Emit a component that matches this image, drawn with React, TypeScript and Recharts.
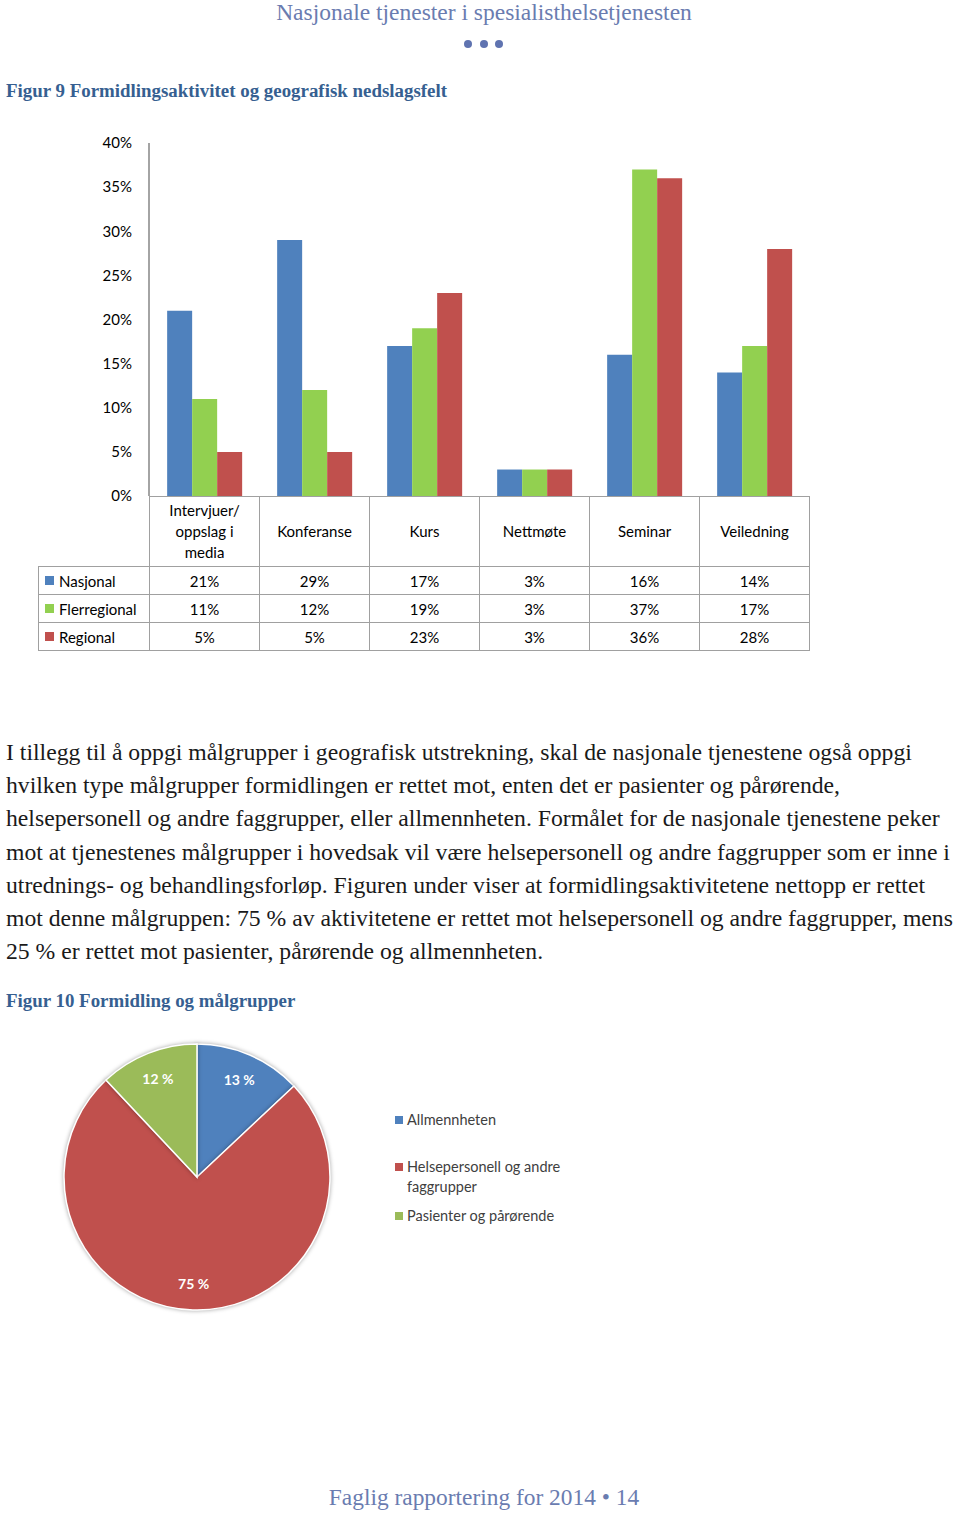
import React from 'react';
import { BarChart, Bar, XAxis, YAxis, PieChart, Pie, Cell, Legend } from 'recharts';

const categories = ['Intervjuer/\noppslag i\nmedia', 'Konferanse', 'Kurs', 'Nettmøte', 'Seminar', 'Veiledning'];
const seriesNames = ['Nasjonal', 'Flerregional', 'Regional'];
const nasjonal = [21, 29, 17, 3, 16, 14];
const flerregional = [11, 12, 19, 3, 37, 17];
const regional = [5, 5, 23, 3, 36, 28];
const yTicks = [0, 5, 10, 15, 20, 25, 30, 35, 40];

const pieNames = ['Allmennheten', 'Helsepersonell og andre faggrupper', 'Pasienter og pårørende'];
const pieValues = [13, 75, 12];

const paragraphLines = [
  'I tillegg til å oppgi målgrupper i geografisk utstrekning, skal de nasjonale tjenestene også oppgi',
  'hvilken type målgrupper formidlingen er rettet mot, enten det er pasienter og pårørende,',
  'helsepersonell og andre faggrupper, eller allmennheten. Formålet for de nasjonale tjenestene peker',
  'mot at tjenestenes målgrupper i hovedsak vil være helsepersonell og andre faggrupper som er inne i',
  'utrednings- og behandlingsforløp. Figuren under viser at formidlingsaktivitetene nettopp er rettet',
  'mot denne målgruppen: 75 % av aktivitetene er rettet mot helsepersonell og andre faggrupper, mens',
  '25 % er rettet mot pasienter, pårørende og allmennheten.',
];

const barColors = ['#4f81bd', '#92d050', '#c0504d'];
const pieColors = ['#4f81bd', '#c0504d', '#9bbb59'];
const seriesValues = [nasjonal, flerregional, regional];

const barData = categories.map((cat, i) => ({
  cat,
  Nasjonal: nasjonal[i],
  Flerregional: flerregional[i],
  Regional: regional[i],
}));
const pieData = pieNames.map((name, i) => ({ name, value: pieValues[i] }));

const serif = '"Liberation Serif", "DejaVu Serif", serif';
const sans = 'Lato, "Open Sans", sans-serif';
const gridColor = '#a0a0a0';

const PLOT_LEFT = 149;
const COL_W = 110;
const TABLE_TOP = 496;
const HEAD_H = 70;
const ROW_H = 28;

const RADIAN = Math.PI / 180;
const pieLabel = (p: any) => {
  const r = p.outerRadius * 0.8;
  const x = p.cx + r * Math.cos(-p.midAngle * RADIAN);
  const y = p.cy + r * Math.sin(-p.midAngle * RADIAN);
  return (
    <text x={x} y={y} fill="#fff" fontFamily={sans} fontWeight={700} fontSize={14} textAnchor="middle" dominantBaseline="central">
      {`${p.value} %`}
    </text>
  );
};

const PieLegend = (props: any) => {
  const payload = props.payload || [];
  const gaps = [0, 27, 9];
  return (
    <div style={{ fontFamily: sans, fontSize: 14.5, color: '#404040', lineHeight: '20px' }}>
      {payload.map((e: any, i: number) => (
        <div key={i} style={{ display: 'flex', marginTop: gaps[i] }}>
          <span style={{ width: 8, height: 8, background: e.color, marginTop: 6, marginRight: 4, flex: 'none' }} />
          <span style={{ maxWidth: 172 }}>{e.value}</span>
        </div>
      ))}
    </div>
  );
};

export default function App() {
  return (
    <div style={{ position: 'absolute', left: 0, top: 0, width: 960, height: 1518, background: '#fff', overflow: 'hidden' }}>
      <div style={{ position: 'absolute', left: 0, width: 968, top: 0, textAlign: 'center', fontFamily: serif, fontSize: 23.5, lineHeight: '24px', color: '#6a7cb0' }}>
        Nasjonale tjenester i spesialisthelsetjenesten
      </div>
      {[468, 484, 499].map((x) => (
        <div key={x} style={{ position: 'absolute', left: x - 4, top: 40, width: 8, height: 8, borderRadius: 4, background: '#5f73b0' }} />
      ))}
      <div style={{ position: 'absolute', left: 6, top: 80, fontFamily: serif, fontSize: 18.9, fontWeight: 700, color: '#365f91', whiteSpace: 'nowrap' }}>
        Figur 9 Formidlingsaktivitet og geografisk nedslagsfelt
      </div>

      <div style={{ position: 'absolute', left: 38, top: 130 }}>
        <BarChart width={780} height={380} data={barData} margin={{ top: 13, right: 9, bottom: 14, left: 0 }} barCategoryGap="16.5%" barGap={0}>
          <XAxis dataKey="cat" hide />
          <YAxis
            width={111}
            domain={[0, 40]}
            ticks={yTicks}
            tickFormatter={(v: number) => `${v}%`}
            tickLine={false}
            tickSize={6}
            tickMargin={11}
            axisLine={{ stroke: '#868686', strokeWidth: 1.5 }}
            tick={{ fill: '#000', fontSize: 15, fontFamily: sans }}
          />
          {seriesNames.map((s, i) => (
            <Bar key={s} dataKey={s} fill={barColors[i]} isAnimationActive={false} />
          ))}
        </BarChart>
      </div>

      {/* data table */}
      {categories.map((c, i) => (
        <div key={c} style={{ position: 'absolute', left: PLOT_LEFT + i * COL_W, top: TABLE_TOP, width: COL_W + 1, height: HEAD_H + 1, boxSizing: 'border-box', border: `1px solid ${gridColor}`, display: 'flex', alignItems: 'center', justifyContent: 'center', textAlign: 'center', whiteSpace: 'pre-line', fontFamily: sans, fontSize: 15, lineHeight: '21px', color: '#000' }}>
          {c}
        </div>
      ))}
      {seriesNames.map((s, r) => (
        <React.Fragment key={s}>
          <div style={{ position: 'absolute', left: 38, top: TABLE_TOP + HEAD_H + r * ROW_H, width: PLOT_LEFT - 38 + 1, height: ROW_H + 1, boxSizing: 'border-box', border: `1px solid ${gridColor}`, display: 'flex', alignItems: 'center', fontFamily: sans, fontSize: 15, color: '#000' }}>
            <span style={{ width: 9, height: 9, background: barColors[r], marginLeft: 6, marginRight: 5 }} />
            {s}
          </div>
          {seriesValues[r].map((v, i) => (
            <div key={i} style={{ position: 'absolute', left: PLOT_LEFT + i * COL_W, top: TABLE_TOP + HEAD_H + r * ROW_H, width: COL_W + 1, height: ROW_H + 1, boxSizing: 'border-box', border: `1px solid ${gridColor}`, display: 'flex', alignItems: 'center', justifyContent: 'center', fontFamily: sans, fontSize: 15, color: '#000' }}>
              {`${v}%`}
            </div>
          ))}
        </React.Fragment>
      ))}

      <div style={{ position: 'absolute', left: 6, top: 736, fontFamily: serif, fontSize: 23.7, lineHeight: '33.2px', color: '#1a1a1a', whiteSpace: 'nowrap' }}>
        {paragraphLines.map((l, i) => (
          <div key={i}>{l}</div>
        ))}
      </div>

      <div style={{ position: 'absolute', left: 6, top: 990, fontFamily: serif, fontSize: 18.9, fontWeight: 700, color: '#365f91', whiteSpace: 'nowrap' }}>
        Figur 10 Formidling og målgrupper
      </div>

      <div style={{ position: 'absolute', left: 0, top: 1030 }}>
        <PieChart width={620} height={300} margin={{ top: 0, right: 0, bottom: 0, left: 0 }}>
          <Pie
            data={pieData}
            dataKey="value"
            nameKey="name"
            cx={197}
            cy={147}
            outerRadius={133}
            startAngle={90}
            endAngle={-270}
            stroke="#fff"
            strokeWidth={1.5}
            label={pieLabel}
            labelLine={false}
            isAnimationActive={false}
            style={{ filter: 'drop-shadow(0 0 2px rgba(0,0,0,0.35))' }}
          >
            {pieData.map((d, i) => (
              <Cell key={d.name} fill={pieColors[i]} />
            ))}
          </Pie>
          <Legend content={PieLegend} layout="vertical" wrapperStyle={{ position: 'absolute', left: 395, top: 80, width: 200 }} />
        </PieChart>
      </div>

      <div style={{ position: 'absolute', left: 0, width: 968, top: 1485, textAlign: 'center', fontFamily: serif, fontSize: 23.4, lineHeight: '24px', color: '#6a7cb0' }}>
        Faglig rapportering for 2014 • 14
      </div>
    </div>
  );
}
